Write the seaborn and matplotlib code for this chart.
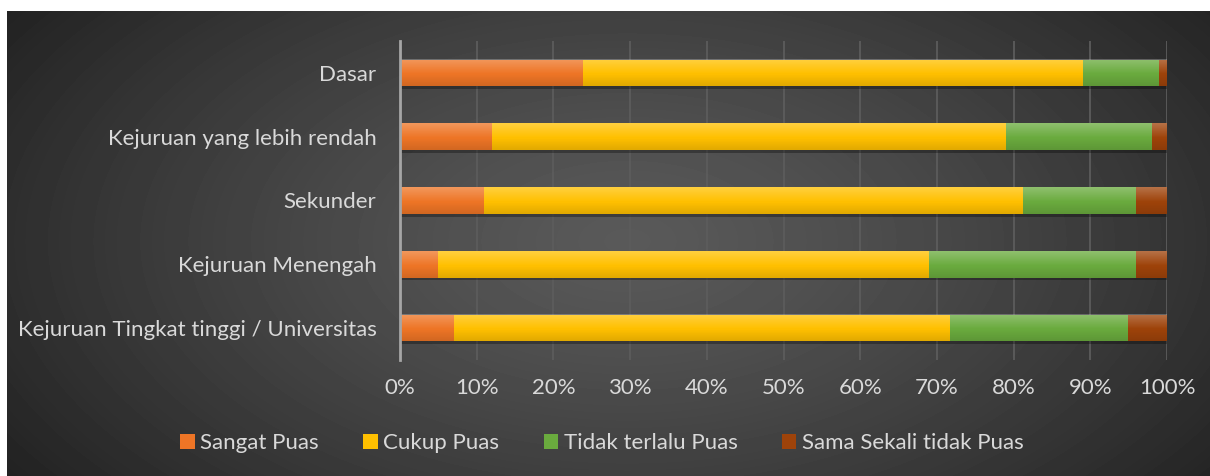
import numpy as np
import pandas as pd
import matplotlib
matplotlib.use("Agg")
import matplotlib.pyplot as plt
import matplotlib.patheffects as pe
from matplotlib.patches import Patch
import seaborn as sns

# data (percent of respondents)
categories = ["Dasar", "Kejuruan yang lebih rendah", "Sekunder",
              "Kejuruan Menengah", "Kejuruan Tingkat tinggi / Universitas"]
sangat_puas = [23.8, 12.0, 11.0, 5.0, 7.0]
cukup_puas = [65.2, 67.0, 70.2, 64.0, 64.7]
tidak_terlalu = [10.0, 19.0, 14.8, 27.0, 23.2]
sama_sekali = [1.0, 2.0, 4.0, 4.0, 5.1]
series_names = ["Sangat Puas", "Cukup Puas", "Tidak terlalu Puas", "Sama Sekali tidak Puas"]
colors = ["#EE7526", "#FFC000", "#6AAB3E", "#9E430A"]
ticks = [0, 10, 20, 30, 40, 50, 60, 70, 80, 90, 100]

sns.set_theme(style="white")
plt.rcParams['font.family'] = ['Lato', 'DejaVu Sans']
txt = "#D9D9D9"
fs = 16

df = pd.DataFrame({"cat": categories, "s1": sangat_puas, "s2": cukup_puas,
                   "s3": tidak_terlalu, "s4": sama_sekali})
df["c1"] = df["s1"]
df["c2"] = df["c1"] + df["s2"]
df["c3"] = df["c2"] + df["s3"]
df["c4"] = df["c3"] + df["s4"]

fig = plt.figure(figsize=(12.1, 4.76), dpi=100)
fig.patch.set_facecolor("white")

# radial dark background
bg = fig.add_axes([7 / 1210, 0, 1 - 7 / 1210, 1 - 11 / 476])
h, w = 465, 1203
yy, xx = np.mgrid[0:h, 0:w]
r = np.sqrt(((xx - 620) / 760) ** 2 + ((yy - 230) / 420) ** 2)
r = np.clip(r, 0, 1)
val = 0.35 - (0.35 - 0.13) * r ** 1.3
bg.imshow(val, cmap="gray", vmin=0, vmax=1, aspect="auto", extent=[0, 1, 0, 1])
bg.axis("off")

ax = fig.add_axes([400 / 1210, 1 - 360 / 476, 767 / 1210, 319 / 476])
ax.patch.set_alpha(0)

for ax_x in ticks:
    ax.axvline(ax_x, color="#5C5C5C", lw=1.3, zorder=0)

cols = ["c4", "c3", "c2", "c1"]
for i, (c, col) in enumerate(zip(cols, colors[::-1])):
    sns.barplot(data=df, x=c, y="cat", color=col, orient="h", width=0.415,
                saturation=1, linewidth=0, ax=ax, zorder=2 + i)

# soft drop shadow under the full-length bars
for p in ax.patches[:5]:
    p.set_path_effects([pe.SimplePatchShadow(offset=(1, -2), alpha=0.3,
                                             shadow_rgbFace="black"), pe.Normal()])

# vertical shading on each bar (light top, darker bottom)
grad = np.zeros((50, 1, 4))
t = np.linspace(0, 1, 50)
grad[:, 0, :3] = np.where(t[:, None] < 0.55, 1.0, 0.0)
grad[:, 0, 3] = np.where(t < 0.55, 0.25 * (1 - t / 0.55), 0.12 * (t - 0.55) / 0.45)
for p in ax.patches[:5]:
    x0, y0 = p.get_x(), p.get_y()
    ax.imshow(grad, extent=[x0, x0 + p.get_width(), y0 + p.get_height(), y0],
              aspect="auto", zorder=8, interpolation="bilinear")
ax.set_ylim(4.5, -0.5)

ax.set_xlim(0, 100)
ax.set_xticks(ticks)
ax.set_xticklabels([f"{t}%" for t in ticks], color=txt, fontsize=fs)
ax.tick_params(axis="x", length=0, pad=13)
ax.tick_params(axis="y", length=0, pad=17, labelcolor=txt, labelsize=fs)
ax.set_xlabel("")
ax.set_ylabel("")
for s in ["top", "right", "bottom"]:
    ax.spines[s].set_visible(False)
ax.spines["left"].set_color("#A6A6A6")
ax.spines["left"].set_linewidth(2)
ax.spines["left"].set_zorder(10)

handles = [Patch(facecolor=c, edgecolor="none") for c in colors]
fig.legend(handles, series_names, loc="center", bbox_to_anchor=(602 / 1210, 1 - 443 / 476),
           ncol=4, frameon=False, fontsize=fs, labelcolor=txt, handlelength=0.65,
           handleheight=0.65, handletextpad=0.25, columnspacing=2.0)

fig.savefig("out.png", dpi=100)
